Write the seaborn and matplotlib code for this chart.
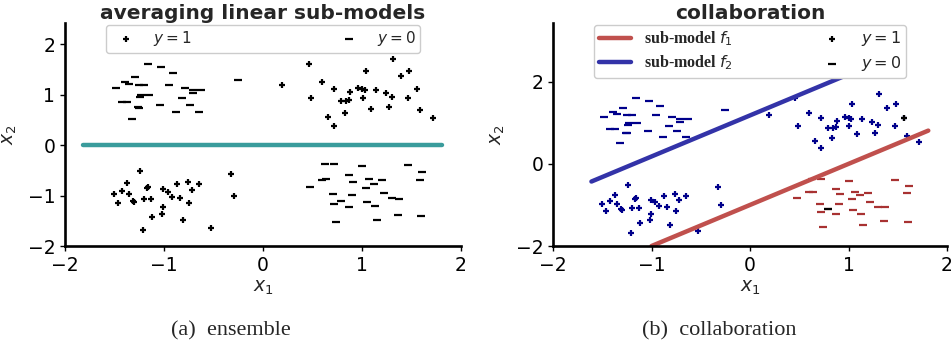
import matplotlib
matplotlib.use("Agg")
import matplotlib.pyplot as plt
import seaborn as sns

# ---- data ----
# y = 1 points, upper-right cluster
pos_ur_x = [0.46, 0.19, 1.31, 1.04, 1.39, 1.48, 0.60, 0.72, 0.49, 0.88, 0.96, 1.00, 1.03, 1.14, 1.24,
            1.56, 0.79, 0.84, 0.87, 1.01, 1.30, 1.47, 1.09, 1.27, 0.83, 0.66, 0.72, 1.59, 1.72]
pos_ur_y = [1.61, 1.20, 1.70, 1.46, 1.37, 1.46, 1.25, 1.12, 0.93, 1.05, 1.13, 1.12, 1.10, 1.10, 1.03,
            1.12, 0.88, 0.88, 0.90, 0.93, 0.95, 0.93, 0.72, 0.76, 0.63, 0.55, 0.38, 0.69, 0.54]
# y = 1 points, lower-left cluster
pos_ll_x = [-1.24, -1.37, -1.17, -1.16, -1.42, -1.50, -1.35, -1.46, -1.31, -1.30, -1.20, -1.13, -1.01, -0.96,
            -0.92, -0.87, -0.84, -0.76, -0.72, -0.65, -0.75, -1.01, -1.02, -1.12, -0.81, -1.21, -0.53, -0.32, -0.29]
pos_ll_y = [-0.51, -0.75, -0.86, -0.84, -0.91, -0.97, -0.97, -1.14, -1.11, -1.12, -1.07, -1.07, -0.88, -0.92,
            -1.03, -0.78, -1.05, -0.74, -0.89, -0.78, -1.14, -1.22, -1.36, -1.43, -1.49, -1.68, -1.64, -0.57, -1.00]
# y = 0 points, upper-left cluster
neg_ul_x = [-1.16, -1.03, -0.91, -1.39, -1.29, -1.35, -1.25, -1.20, -1.48, -0.95, -0.79, -0.71, -0.63, -1.23,
            -1.15, -1.24, -0.82, -1.42, -1.37, -1.04, -0.74, -1.26, -1.25, -0.88, -0.65, -1.32, -0.71, -0.25]
neg_ul_y = [1.60, 1.54, 1.42, 1.26, 1.35, 1.22, 1.20, 1.20, 1.14, 1.20, 1.13, 1.10, 1.10, 1.00,
            1.00, 0.95, 0.93, 0.86, 0.86, 0.80, 0.80, 0.76, 0.74, 0.66, 0.66, 0.52, 1.03, 1.30]
# y = 0 points, lower-right cluster
neg_lr_x = [0.63, 0.72, 1.00, 1.47, 1.61, 0.87, 0.60, 0.64, 0.91, 1.07, 1.12, 1.20, 1.59, 0.48, 1.04,
            1.22, 0.71, 0.90, 1.30, 1.37, 0.79, 0.72, 1.05, 0.87, 1.13, 1.36, 1.60, 1.15, 0.74]
neg_lr_y = [-0.38, -0.38, -0.42, -0.39, -0.53, -0.60, -0.69, -0.68, -0.74, -0.68, -0.77, -0.70, -0.70, -0.84, -0.86,
            -0.94, -0.97, -0.98, -1.05, -1.06, -1.11, -1.16, -1.12, -1.22, -1.21, -1.38, -1.41, -1.48, -1.53]
# points drawn in black on top in panel (b)
black_pos = ([1.56], [1.12])
black_neg = ([0.79], [-1.11])

# decision boundaries
avg_x, avg_y = [-1.82, 1.81], [0.0, 0.0]
f1_x, f1_y = [-1.0, 1.81], [-2.0, 0.81]
f2_x, f2_y = [-1.61, 1.40], [-0.43, 2.58]

TEAL = "#3a9c9c"
RED_LINE = "#c0504d"
BLUE_LINE = "#3333a8"
RED_PT = "#a83232"
NAVY = "#00008b"

sns.set_style("ticks")
plt.rcParams['font.family'] = ['DejaVu Sans']
plt.rcParams['mathtext.fontset'] = 'dejavusans'

fig = plt.figure(figsize=(9.53, 3.46), dpi=100)
ax1 = fig.add_axes([0.0682, 0.289, 0.4155, 0.6445])
ax2 = fig.add_axes([0.5803, 0.289, 0.4134, 0.6445])

PLUS = dict(marker="+", s=24, linewidth=1.6)
MINUS = dict(marker="_", s=32, linewidth=1.6)
LEG = dict(loc="upper center", bbox_to_anchor=(0.1, 0, 0.8, 1.0), mode="expand", ncol=2,
           borderaxespad=0.1, handletextpad=0.8, framealpha=1, borderpad=0.3, labelspacing=0.35)


def style_axes(ax, ylim, yticks):
    ax.set_xlim(-2, 2)
    ax.set_ylim(*ylim)
    ax.set_xticks([-2, -1, 0, 1, 2])
    ax.set_yticks(yticks)
    sns.despine(ax=ax)
    for side in ("left", "bottom"):
        ax.spines[side].set_linewidth(1.9)
        ax.spines[side].set_color("black")
    ax.tick_params(labelsize=13.5, width=1, length=3.5, colors="black")
    ax.set_xlabel("$x_1$", fontsize=13.5, labelpad=2)
    ax.set_ylabel("$x_2$", fontsize=13.5, labelpad=6)


# (a) ensemble
sns.lineplot(x=avg_x, y=avg_y, ax=ax1, color=TEAL, linewidth=3.2)
sns.scatterplot(x=pos_ur_x + pos_ll_x, y=pos_ur_y + pos_ll_y, ax=ax1, color="black", label="$y=1$", **PLUS)
sns.scatterplot(x=neg_ul_x + neg_lr_x, y=neg_ul_y + neg_lr_y, ax=ax1, color="black", label="$y=0$", **MINUS)
style_axes(ax1, (-2, 2.42), [-2, -1, 0, 1, 2])
ax1.set_title("averaging linear sub-models", fontsize=14.5, fontweight="bold", pad=3)
ax1.legend(fontsize=11, **LEG)

# (b) collaboration
sns.lineplot(x=f1_x, y=f1_y, ax=ax2, color=RED_LINE, linewidth=3.2, label="sub-model $f_1$")
sns.lineplot(x=f2_x, y=f2_y, ax=ax2, color=BLUE_LINE, linewidth=3.2, label="sub-model $f_2$")
sns.scatterplot(x=pos_ur_x + pos_ll_x, y=pos_ur_y + pos_ll_y, ax=ax2, color=NAVY, **PLUS)
sns.scatterplot(x=neg_ul_x, y=neg_ul_y, ax=ax2, color=NAVY, **MINUS)
sns.scatterplot(x=neg_lr_x, y=neg_lr_y, ax=ax2, color=RED_PT, **MINUS)
sns.scatterplot(x=black_pos[0], y=black_pos[1], ax=ax2, color="black", label="$y=1$", **PLUS)
sns.scatterplot(x=black_neg[0], y=black_neg[1], ax=ax2, color="black", label="$y=0$", **MINUS)
style_axes(ax2, (-2, 3.43), [-2, 0, 2])
ax2.set_title("collaboration", fontsize=14.5, fontweight="bold", pad=3)
ax2.legend(prop={"family": "Liberation Serif", "weight": "bold", "size": 11.5}, **LEG)

# captions
fig.text(231 / 953, 1 - 331 / 346, "(a)  ensemble", family="Liberation Serif", fontsize=16,
         ha="center", va="center")
fig.text(719 / 953, 1 - 331 / 346, "(b)  collaboration", family="Liberation Serif", fontsize=16,
         ha="center", va="center")

fig.savefig("out.png", dpi=100)
